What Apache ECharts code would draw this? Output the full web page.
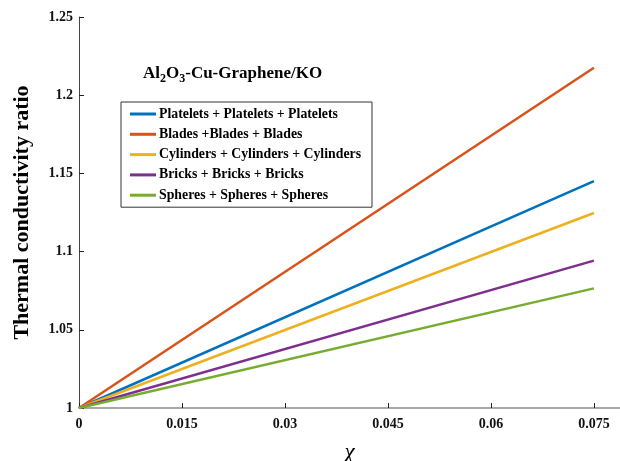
<!DOCTYPE html>
<html><head><meta charset="utf-8">
<script src="https://cdn.jsdelivr.net/npm/echarts@6/dist/echarts.min.js"></script>
<style>html,body{margin:0;padding:0;background:#fff;overflow:hidden}#c{width:620px;height:461px}</style>
</head><body><div id="c"></div>
<script>
const xValues = [0, 0.075];
const seriesNames = [
  'Platelets + Platelets + Platelets',
  'Blades +Blades + Blades',
  'Cylinders + Cylinders + Cylinders',
  'Bricks + Bricks + Bricks',
  'Spheres + Spheres + Spheres'
];
const platelets = [1, 1.1451];
const blades = [1, 1.2175];
const cylinders = [1, 1.1247];
const bricks = [1, 1.0942];
const spheres = [1, 1.0765];
const colors = ['#0072BD', '#D95319', '#EDB120', '#7E2F8E', '#77AC30'];
const xTicks = [0, 0.015, 0.03, 0.045, 0.06, 0.075];
const yTicks = [1, 1.05, 1.1, 1.15, 1.2, 1.25];

const allData = [platelets, blades, cylinders, bricks, spheres];
const font = '"Liberation Serif", "Times New Roman", serif';
const chart = echarts.init(document.getElementById('c'));
chart.setOption({
  animation: false,
  grid: {left: 79, top: 17, right: 0, height: 391, outerBoundsMode: 'none', containLabel: false},
  legend: {
    orient: 'vertical', left: 121, top: 102,
    padding: [5, 11, 5, 9], itemGap: 6.3,
    itemWidth: 26, itemHeight: 3, icon: 'rect',
    borderColor: '#333', borderWidth: 1, backgroundColor: '#fff',
    textStyle: {fontFamily: font, fontWeight: 'bold', fontSize: 13.8, color: '#000', lineHeight: 14, padding: [0,0,0,-2]},
    data: seriesNames
  },
  title: {
    text: '{n|Al}{s|2}{n|O}{s|3}{n|-Cu-Graphene/KO}',
    left: 138, top: 58,
    textStyle: {rich: {
      n: {fontFamily: font, fontWeight: 'bold', fontSize: 17, color: '#000'},
      s: {fontFamily: font, fontWeight: 'bold', fontSize: 12, color: '#000', verticalAlign: 'bottom', padding: [10,0,0,0]}
    }}
  },
  xAxis: {
    type: 'value', min: 0, max: 0.0788, interval: 0.015,
    name: 'χ', nameLocation: 'middle', nameGap: 33,
    nameTextStyle: {fontFamily: font, fontStyle: 'italic', fontSize: 23, color: '#000'},
    axisLine: {lineStyle: {color: '#8c8c8c', width: 1.5}},
    axisTick: {inside: true, length: 5, lineStyle: {color: '#222'}},
    splitLine: {show: false},
    axisLabel: {fontFamily: font, fontWeight: 'bold', fontSize: 14, color: '#111', margin: 9,
      formatter: v => xTicks.some(t => Math.abs(t - v) < 1e-9) ? String(+v.toFixed(3)) : ''}
  },
  yAxis: {
    type: 'value', min: 1, max: 1.25, interval: 0.05,
    name: 'Thermal conductivity ratio', nameLocation: 'middle', nameGap: 46,
    nameTextStyle: {fontFamily: font, fontWeight: 'bold', fontSize: 22, color: '#000'},
    axisLine: {show: true, lineStyle: {color: '#444', width: 1}},
    axisTick: {show: true, inside: true, length: 5, lineStyle: {color: '#222'}},
    splitLine: {show: false},
    axisLabel: {fontFamily: font, fontWeight: 'bold', fontSize: 14, color: '#111', margin: 6,
      formatter: v => yTicks.some(t => Math.abs(t - v) < 1e-9) ? String(+v.toFixed(2)) : ''}
  },
  series: allData.map((d, i) => ({
    name: seriesNames[i], type: 'line', showSymbol: false, symbol: 'none',
    lineStyle: {color: colors[i], width: 2.5}, itemStyle: {color: colors[i]},
    data: xValues.map((x, j) => [x, d[j]])
  }))
});
</script></body></html>
